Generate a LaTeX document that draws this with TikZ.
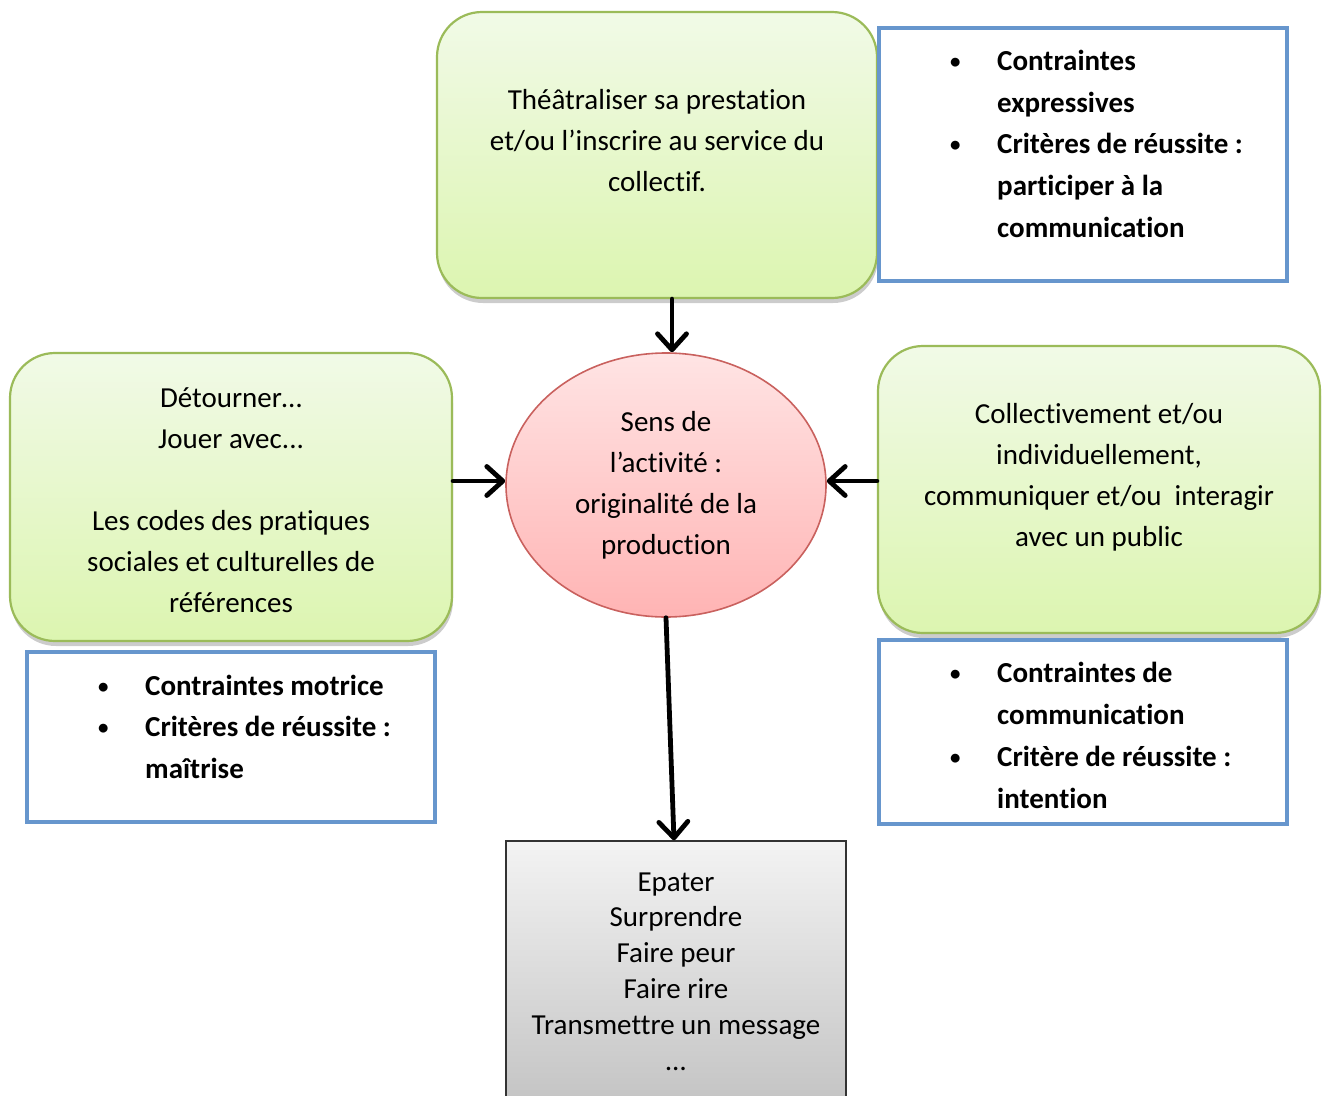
\documentclass[tikz,border=0pt]{standalone}
\usepackage{fontspec}
\setmainfont[Ligatures={NoCommon}]{Carlito}
\usetikzlibrary{shapes.geometric,arrows.meta,shadows}
\definecolor{gborder}{HTML}{9BBB59}
\definecolor{gtop}{HTML}{F1FAE7}
\definecolor{gbot}{HTML}{DCF5B0}
\definecolor{rborder}{HTML}{C9615E}
\definecolor{rtop}{HTML}{FFE4E4}
\definecolor{rbot}{HTML}{FFB4B4}
\definecolor{bborder}{HTML}{6796CD}
\definecolor{ktop}{HTML}{F3F3F3}
\definecolor{kbot}{HTML}{C4C4C4}
\newcommand\mybul{\makebox[84pt][c]{\raisebox{2pt}{\scalebox{0.72}{\textbullet}}}}
\begin{document}
\begin{tikzpicture}[x=1pt,y=-1pt,
  greenbox/.style={draw=gborder, line width=2.2pt, rounded corners=45pt,
    top color=gtop, bottom color=gbot, inner sep=0pt,
    drop shadow={shadow xshift=1pt, shadow yshift=-5pt, opacity=0.2, fill=black}},
  bluebox/.style={draw=bborder, line width=4pt, fill=white, inner sep=0pt},
  txt/.style={font=\fontsize{29}{41}\selectfont, align=center, inner sep=0pt},
  graytxt/.style={font=\fontsize{29}{35.8}\selectfont, align=center, inner sep=0pt},
  listtxt/.style={font=\fontsize{29}{41.8}\selectfont\bfseries, inner sep=0pt, anchor=west},
  arr/.style={line width=4.8pt, line cap=round, -{Straight Barb[round, length=16pt, width=29pt]}}
]
\useasboundingbox (0,0) rectangle (1324,1095);
\clip (0,0) rectangle (1324,1095);

% top
\node[greenbox, minimum width=440pt, minimum height=286pt] (tg) at (657,155) {};
\node[txt] (tgt) at (657,142) {\strut Théâtraliser sa prestation\\\strut et/ou l’inscrire au service du\\\strut collectif.};
\node[bluebox, minimum width=408pt, minimum height=253pt] (tb) at (1083,154.5) {};
\node[listtxt] (tbt) at (913,145.5) {\begin{tabular}{@{}l@{}l@{}}
\mybul & Contraintes\\ & expressives\\ \mybul & Critères de réussite :\\ & participer à la\\ & communication\end{tabular}};

% left
\node[greenbox, minimum width=442pt, minimum height=288pt] (lg) at (231,497) {};
\node[txt] (lgt) at (231,502) {\strut Détourner…\\\strut Jouer avec...\\\strut\\\strut Les codes des pratiques\\\strut sociales et culturelles de\\\strut références};
\node[bluebox, minimum width=408pt, minimum height=170pt] (lb) at (231,737) {};
\node[listtxt] (lbt) at (61,728.5) {\begin{tabular}{@{}l@{}l@{}}
\mybul & Contraintes motrice\\ \mybul & Critères de réussite :\\ & maîtrise\end{tabular}};

% right
\node[greenbox, minimum width=442pt, minimum height=287pt] (rg) at (1099,489.5) {};
\node[txt] (rgt) at (1099,477) {\strut Collectivement et/ou\\\strut individuellement,\\\strut communiquer et/ou\ \ interagir\\\strut avec un public};
\node[bluebox, minimum width=408pt, minimum height=184pt] (rb) at (1083,732) {};
\node[listtxt] (rbt) at (913,737) {\begin{tabular}{@{}l@{}l@{}}
\mybul & Contraintes de\\ & communication\\ \mybul & Critère de réussite :\\ & intention\end{tabular}};

% centre
\node[ellipse, draw=rborder, line width=1.6pt, top color=rtop, bottom color=rbot,
  minimum width=320pt, minimum height=264pt, inner sep=0pt,
  font=\fontsize{29}{41}\selectfont, align=center] (el) at (666,485)
  {\strut Sens de\\\strut l’activité :\\\strut originalité de la\\\strut production\rule[-4pt]{0pt}{0pt}};

% bottom
\node[draw=black!80, line width=1.5pt, top color=ktop, bottom color=kbot,
  minimum width=340pt, minimum height=262pt, inner sep=0pt] (gb) at (676,972) {};
\node[graytxt] (gbt) at (676,973.5) {\strut Epater\\\strut Surprendre\\\strut Faire peur\\\strut Faire rire\\\strut Transmettre un message\\\strut …};

% connectors
\draw[arr] ([xshift=15pt]tg.south) -- ([xshift=15pt]tg.south |- el.north);
\draw[arr] ([yshift=16pt]lg.east) -- ([yshift=16pt]lg.east -| el.west);
\draw[arr] ([yshift=8.5pt]rg.west) -- ([yshift=8.5pt]rg.west -| el.east);
\draw[arr] (el.south) -- ([xshift=-2pt]gb.north);
\end{tikzpicture}
\end{document}
